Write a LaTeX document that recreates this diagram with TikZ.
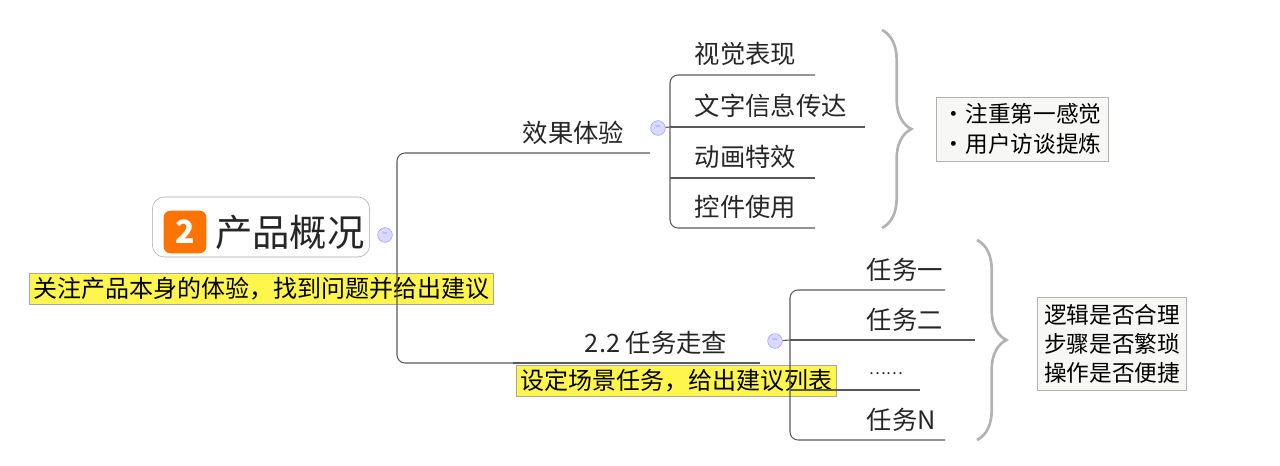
\documentclass[tikz,border=0pt]{standalone}
\usepackage{fontspec}
\setmainfont{Noto Sans CJK SC}
\usetikzlibrary{positioning,decorations.pathreplacing}

\begin{document}
\begin{tikzpicture}[x=0.75pt,y=-0.75pt,
  line/.style={draw=gray!70!black, line width=0.8pt},
  topic/.style={font=\fontsize{19}{21}\selectfont, text=black!85, anchor=south west, inner sep=2pt},
  knob/.style={circle, draw=blue!40, fill=blue!15, minimum size=11pt, inner sep=0pt, font=\fontsize{8}{8}\selectfont, text=blue!50},
  callout/.style={draw=gray!70, fill=yellow!70, font=\fontsize{18}{20}\selectfont, inner sep=3pt},
  memo/.style={draw=gray!60, fill=yellow!8!gray!8, font=\fontsize{17}{22}\selectfont, align=left, inner sep=5pt},
  bracebig/.style={decorate, decoration={brace, amplitude=22pt}, draw=gray!60, line width=2pt},
]
\useasboundingbox (0,0) rectangle (1280,466);

% root
\node[draw=gray!70, rounded corners=9pt, minimum width=163pt, minimum height=45pt] (root) at (261,227) {};
\node[fill=orange!90!red, rounded corners=5pt, text=white, font=\bfseries\fontsize{24}{26}\selectfont, minimum size=32pt, inner sep=0pt] (badge) at (185,232) {2};
\node[right=3pt of badge, font=\fontsize{28}{30}\selectfont, text=black!85] (title) {产品概况};
\node[knob] (k0) at (385,235) {--};
\node[callout] (note0) at (261,289) {关注产品本身的体验，找到问题并给出建议};

% branch 1
\coordinate (b1) at (650,153);
\coordinate (b2) at (513,363);
\draw[line, rounded corners=6pt] (b1) -| (397,236) |- (b2);
\draw[line] (b2) -- (760,363);
\node[topic] (t1) at (520,148) {效果体验};
\node[knob] (k1) at (658,128) {--};
\node[topic] (t2) at (582,358) {2.2 任务走查};
\node[knob] (k2) at (775,341) {--};
\node[callout] (note2) at (676,381) {设定场景任务，给出建议列表};

% children of 效果体验
\coordinate (c1) at (815,75);
\coordinate (c2) at (865,127);
\coordinate (c3) at (815,178);
\coordinate (c4) at (815,228);
\draw[line, rounded corners=6pt] (c1) -- (670,75) -- (670,228) -- (c4);
\draw[line] (670,127) -- (c2) (670,178) -- (c3);
\draw[line] (k1) -- (670,127);
\node[topic] (a1) at (692,69) {视觉表现};
\node[topic] (a2) at (692,121) {文字信息传达};
\node[topic] (a3) at (692,172) {动画特效};
\node[topic] (a4) at (692,222) {控件使用};
\draw[bracebig] (882,30) -- (882,228);
\node[memo] (m1) at (1022,129) {·注重第一感觉\\·用户访谈提炼};

% children of 任务走查
\coordinate (d1) at (945,290);
\coordinate (d2) at (975,340);
\coordinate (d3) at (920,390);
\coordinate (d4) at (945,440);
\draw[line, rounded corners=6pt] (d1) -- (790,290) -- (790,440) -- (d4);
\draw[line] (790,340) -- (d2) (790,390) -- (d3);
\draw[line] (k2) -- (790,340);
\node[topic] (e1) at (864,284) {任务一};
\node[topic] (e2) at (864,334) {任务二};
\node[topic, font=\fontsize{12}{14}\selectfont] (e3) at (866,378) {……};
\node[topic] (e4) at (864,434) {任务N};
\draw[bracebig] (977,240) -- (977,440);
\node[memo, align=center] (m2) at (1112,344) {逻辑是否合理\\步骤是否繁琐\\操作是否便捷};
\end{tikzpicture}
\end{document}
